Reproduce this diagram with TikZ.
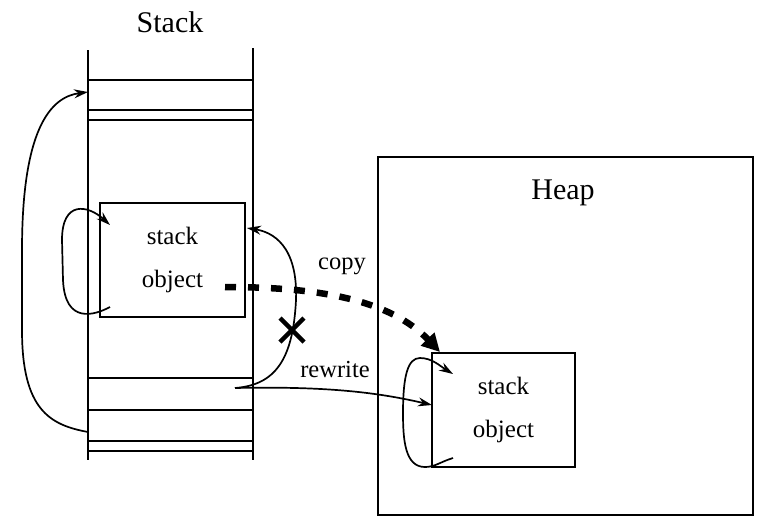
\documentclass[tikz,border=0pt]{standalone}
\usepackage{fontspec}
\setmainfont{Liberation Serif}
\usetikzlibrary{arrows.meta,calc}
\tikzset{
  wall/.style={line width=1.9pt},
  objbox/.style={draw, line width=1.9pt, minimum width=145pt, minimum height=114pt, inner sep=0pt,
    align=center, font=\fontsize{25}{43}\selectfont},
  title/.style={font=\fontsize{30}{32}\selectfont, inner sep=0pt},
  lbl/.style={font=\fontsize{24.5}{26}\selectfont, inner sep=0pt},
  ptr/.style={line width=1.7pt, -{Stealth[length=14pt,width=9pt]}},
  copyarrow/.style={line width=6.5pt, dash pattern=on 11pt off 12pt, -{Triangle[length=18pt,width=18pt]}},
  xmark/.style={line width=4.5pt}
}
\begin{document}
\begin{tikzpicture}[x=1pt,y=-1pt]
\useasboundingbox (0,0) rectangle (757,517);
% titles
\node[title] (stacktitle) at (170,22) {Stack};
% stack column
\draw[wall] (88,50) -- (88,460);
\draw[wall] (253,48) -- (253,460);
\foreach \yy in {80,110,120,378,410,441,451}
  \draw[wall] (88,\yy) -- (253,\yy);
% slot coordinates
\coordinate (slotTop) at (88,92);
\coordinate (slotLow) at (88,432);
\coordinate (slotPtr) at (235,388);
% stack object
\node[objbox, minimum width=145pt] (sobj) at (172.5,260) {stack\\object};
\coordinate (sobjIn) at (110,225);
\coordinate (sobjOut) at (110,307);
\coordinate (sobjR) at (247,228);
\coordinate (copyStart) at (225,287);
% heap
\node[draw, line width=1.9pt, minimum width=375pt, minimum height=358pt, inner sep=0pt] (heap) at (565.5,336) {};
\node[title] (heaptitle) at (563,193) {Heap};
\node[objbox, minimum width=143pt] (hobj) at (503.5,410) {stack\\object};
\coordinate (hobjIn) at (453,374);
\coordinate (hobjOut) at (453,458);
\coordinate (hobjL) at (432,405);
\coordinate (hobjTL) at (440,352);
% big left pointer
\draw[ptr] (slotLow) .. controls (50,425) and (22,410) .. (22,330) -- (22,250)
  .. controls (22,130) and (50,97) .. (slotTop);
% stack object self loop
\draw[ptr] (sobjOut) .. controls (95,315) and (65,325) .. (63,280) -- (62,240)
  .. controls (62,200) and (88,205) .. (sobjIn);
% rewrite (crossed) pointer
\draw[ptr] (slotPtr) .. controls (275,385) and (293,360) .. (296,300)
  .. controls (298,245) and (272,232) .. (sobjR);
% pointer to heap copy
\draw[ptr] (slotPtr) .. controls (330,386) and (380,393) .. (hobjL);
% copy arrow
\draw[copyarrow] (copyStart) .. controls (320,287) and (390,300) .. (hobjTL);
% heap object self loop
\draw[ptr] (hobjOut) .. controls (440,462) and (435,467) .. (425,467)
  .. controls (405,467) and (403,440) .. (403,413)
  .. controls (403,375) and (408,358) .. (420,358)
  .. controls (432,358) and (440,366) .. (hobjIn);
% X mark
\node[inner sep=0pt] (xm) at (292,330) {};
\draw[xmark] ($(xm)+(-12,-12)$) -- ($(xm)+(12,12)$);
\draw[xmark] ($(xm)+(-12,12)$) -- ($(xm)+(12,-12)$);
% labels
\node[lbl] (copylbl) at (342,266) {copy};
\node[lbl] (rewritelbl) at (335,370) {rewrite};
\end{tikzpicture}
\end{document}
